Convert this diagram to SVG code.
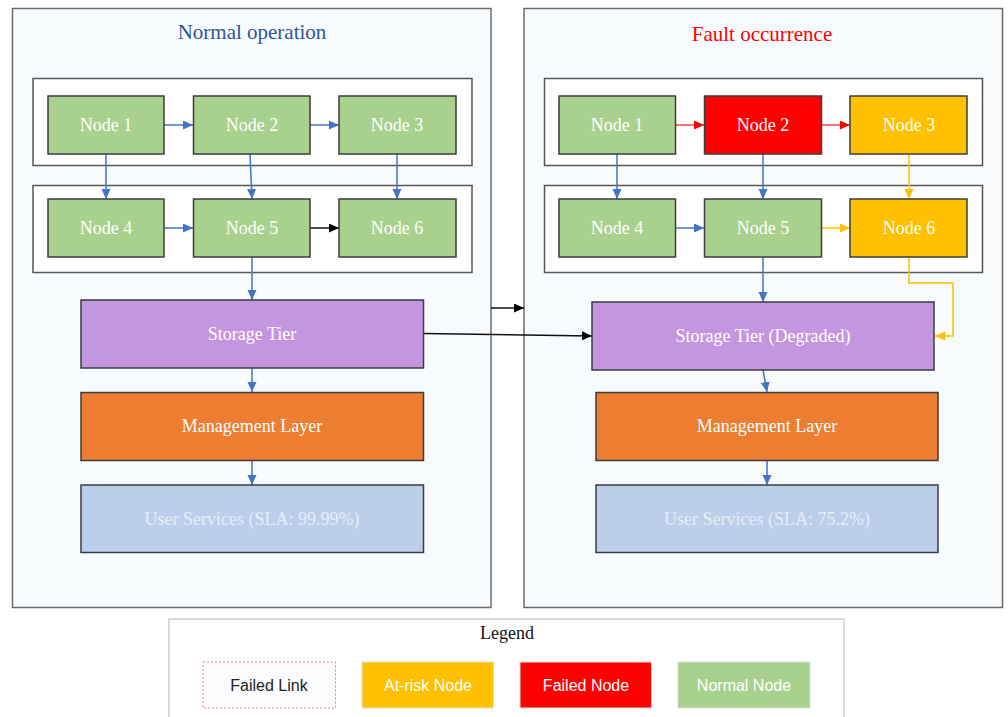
<svg xmlns="http://www.w3.org/2000/svg" width="1008" height="717" viewBox="0 0 1008 717">
<style>
.panel{fill:#f8fbfd;stroke:#6b6b6b;stroke-width:1.5}
.grp{fill:#ffffff;stroke:#555555;stroke-width:1.5}
.node{stroke:#3d3d3d;stroke-width:1.5}
.green{fill:#a9d18e}
.red{fill:#ff0000}
.amber{fill:#ffc000}
.purple{fill:#c397e0}
.orange{fill:#ed7d31}
.lblue{fill:#bccfea}
.t{font-family:"Liberation Serif","Times New Roman",serif;font-size:18px;fill:#ffffff;text-anchor:middle}
.tl{fill:#e6edf8}
.title{font-family:"Liberation Serif","Times New Roman",serif;font-size:21px;text-anchor:middle}
.lg{font-family:"Liberation Sans",Arial,sans-serif;font-size:16px;text-anchor:middle}
.cb{fill:none;stroke:#4472c4;stroke-width:1.5}
.cr{fill:none;stroke:#ff4444;stroke-width:1.5}
.co{fill:none;stroke:#ffc000;stroke-width:1.5}
.ck{fill:none;stroke:#111111;stroke-width:1.5}
</style>
<defs>
<marker id="ab" markerUnits="userSpaceOnUse" markerWidth="11" markerHeight="10" refX="10" refY="4.5" orient="auto"><path d="M0,0 L10,4.5 L0,9 z" fill="#4472c4"/></marker>
<marker id="ar" markerUnits="userSpaceOnUse" markerWidth="11" markerHeight="10" refX="10" refY="4.5" orient="auto"><path d="M0,0 L10,4.5 L0,9 z" fill="#ff0000"/></marker>
<marker id="ao" markerUnits="userSpaceOnUse" markerWidth="11" markerHeight="10" refX="10" refY="4.5" orient="auto"><path d="M0,0 L10,4.5 L0,9 z" fill="#ffc000"/></marker>
<marker id="ak" markerUnits="userSpaceOnUse" markerWidth="11" markerHeight="10" refX="10" refY="4.5" orient="auto"><path d="M0,0 L10,4.5 L0,9 z" fill="#000000"/></marker>
</defs>
<rect x="0" y="0" width="1008" height="717" fill="#ffffff"/>

<g id="panel-normal">
<rect class="panel" x="12.5" y="8.5" width="478.5" height="599"/>
<text class="title" x="252" y="39" fill="#2f5597">Normal operation</text>
<rect class="grp" x="33" y="78.5" width="439" height="87"/>
<rect class="grp" x="33" y="185.5" width="439" height="87"/>
</g>
<g id="panel-fault">
<rect class="panel" x="524" y="8.5" width="478.5" height="599"/>
<text class="title" x="762" y="41" fill="#ff0000">Fault occurrence</text>
<rect class="grp" x="544.5" y="78.5" width="438" height="87"/>
<rect class="grp" x="544.5" y="185.5" width="438" height="87"/>
</g>

<g id="connectors">
<path class="cb" d="M164,125 H193" marker-end="url(#ab)"/>
<path class="cb" d="M310,125 H339" marker-end="url(#ab)"/>
<path class="cb" d="M106,154 V199" marker-end="url(#ab)"/>
<path class="cb" d="M250,154 L252,199" marker-end="url(#ab)"/>
<path class="cb" d="M397,154 V199" marker-end="url(#ab)"/>
<path class="cb" d="M164,228 H193" marker-end="url(#ab)"/>
<path class="ck" d="M310,228 H339" marker-end="url(#ak)"/>
<path class="cb" d="M252,257 V300" marker-end="url(#ab)"/>
<path class="cb" d="M252,368 V392" marker-end="url(#ab)"/>
<path class="cb" d="M252,461 V485" marker-end="url(#ab)"/>
<path class="ck" d="M491,308 H524" marker-end="url(#ak)"/>
<path class="ck" d="M423,333.5 L592,336" marker-end="url(#ak)"/>
<path class="cr" d="M676,125 H704" marker-end="url(#ar)"/>
<path class="cr" d="M822,125 H850" marker-end="url(#ar)"/>
<path class="cb" d="M617,154 V199" marker-end="url(#ab)"/>
<path class="cb" d="M763,154 V199" marker-end="url(#ab)"/>
<path class="co" d="M909,154 V199" marker-end="url(#ao)"/>
<path class="cb" d="M676,228 H704" marker-end="url(#ab)"/>
<path class="co" d="M822,228 H850" marker-end="url(#ao)"/>
<path class="co" d="M909,257 V283 H953 V336 H935" marker-end="url(#ao)"/>
<path class="cb" d="M763,257 V302" marker-end="url(#ab)"/>
<path class="cb" d="M763,370 L767,392" marker-end="url(#ab)"/>
<path class="cb" d="M767,461 V485" marker-end="url(#ab)"/>
</g>

<g id="n-l1"><rect class="node green" x="48" y="96" width="116" height="58"/><text class="t" x="106" y="131">Node 1</text></g>
<g id="n-l2"><rect class="node green" x="193.5" y="96" width="116.5" height="58"/><text class="t" x="252" y="131">Node 2</text></g>
<g id="n-l3"><rect class="node green" x="339" y="96" width="117" height="58"/><text class="t" x="397" y="131">Node 3</text></g>
<g id="n-l4"><rect class="node green" x="48" y="199" width="116" height="58"/><text class="t" x="106" y="234">Node 4</text></g>
<g id="n-l5"><rect class="node green" x="193.5" y="199" width="116.5" height="58"/><text class="t" x="252" y="234">Node 5</text></g>
<g id="n-l6"><rect class="node green" x="339" y="199" width="117" height="58"/><text class="t" x="397" y="234">Node 6</text></g>
<g id="l-storage"><rect class="node purple" x="81" y="300" width="342.5" height="68"/><text class="t" x="252" y="340">Storage Tier</text></g>
<g id="l-mgmt"><rect class="node orange" x="81" y="392.5" width="342.5" height="68"/><text class="t" x="252" y="432">Management Layer</text></g>
<g id="l-user"><rect class="node lblue" x="81" y="485" width="342.5" height="67.5"/><text class="t tl" x="252" y="525">User Services (SLA: 99.99%)</text></g>

<g id="n-r1"><rect class="node green" x="559" y="96" width="116.5" height="58"/><text class="t" x="617" y="131">Node 1</text></g>
<g id="n-r2"><rect class="node red" x="704.5" y="96" width="117" height="58"/><text class="t" x="763" y="131">Node 2</text></g>
<g id="n-r3"><rect class="node amber" x="850" y="96" width="117" height="58"/><text class="t" x="909" y="131">Node 3</text></g>
<g id="n-r4"><rect class="node green" x="559" y="199" width="116.5" height="58"/><text class="t" x="617" y="234">Node 4</text></g>
<g id="n-r5"><rect class="node green" x="704.5" y="199" width="117" height="58"/><text class="t" x="763" y="234">Node 5</text></g>
<g id="n-r6"><rect class="node amber" x="850" y="199" width="117" height="58"/><text class="t" x="909" y="234">Node 6</text></g>
<g id="r-storage"><rect class="node purple" x="592" y="302" width="342" height="68"/><text class="t" x="763" y="342">Storage Tier (Degraded)</text></g>
<g id="r-mgmt"><rect class="node orange" x="596" y="392.5" width="342" height="68"/><text class="t" x="767" y="432">Management Layer</text></g>
<g id="r-user"><rect class="node lblue" x="596" y="485" width="342" height="67.5"/><text class="t tl" x="767" y="525">User Services (SLA: 75.2%)</text></g>

<g id="legend">
<rect x="169" y="619" width="675" height="110" fill="#ffffff" stroke="#d0d0d0" stroke-width="1.5"/>
<text x="507" y="639" font-family="Liberation Serif,'Times New Roman',serif" font-size="18" text-anchor="middle" fill="#111">Legend</text>
<g id="lg-failed-link"><rect x="203" y="662" width="132.5" height="46" fill="#fafcfe" stroke="#f08080" stroke-width="1" stroke-dasharray="2,2"/><text class="lg" x="269" y="691" fill="#222">Failed Link</text></g>
<g id="lg-atrisk"><rect x="362" y="662" width="131.5" height="46" fill="#ffc000" stroke="#e0e0e0" stroke-width="1"/><text class="lg" x="428" y="691" fill="#ffffff">At-risk Node</text></g>
<g id="lg-failed"><rect x="520" y="662" width="131.5" height="46" fill="#ff0000" stroke="#e0e0e0" stroke-width="1"/><text class="lg" x="586" y="691" fill="#ffffff">Failed Node</text></g>
<g id="lg-normal"><rect x="678" y="662" width="132" height="46" fill="#a9d18e" stroke="#e0e0e0" stroke-width="1"/><text class="lg" x="744" y="691" fill="#ffffff">Normal Node</text></g>
</g>
</svg>
